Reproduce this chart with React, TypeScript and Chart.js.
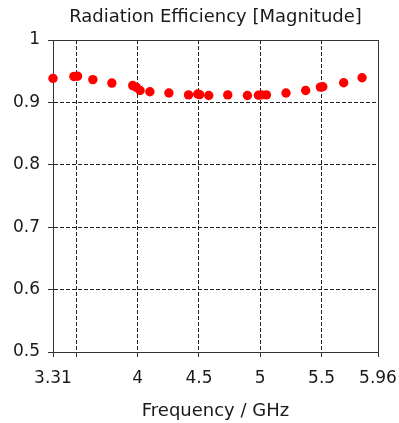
import React, { useEffect, useRef } from "react";
import { Chart, registerables } from "chart.js";

Chart.register(...registerables);

const chartTitle = "Radiation Efficiency [Magnitude]";
const xAxisTitle = "Frequency / GHz";
const xTickValues = [3.31, 3.5, 4, 4.5, 5, 5.5, 5.96];
const xTickLabels = ["3.31", "", "4", "4.5", "5", "5.5", "5.96"];
const yTickValues = [0.5, 0.6, 0.7, 0.8, 0.9, 1];
const yTickLabels = ["0.5", "0.6", "0.7", "0.8", "0.9", "1"];

const frequency = [
  3.31, 3.48, 3.51, 3.635, 3.79, 3.96, 3.99, 4.02, 4.1, 4.255, 4.415, 4.49,
  4.505, 4.58, 4.735, 4.895, 4.985, 5.01, 5.05, 5.21, 5.37, 5.49, 5.51, 5.68,
  5.83,
];
const efficiency = [
  0.9385, 0.9415, 0.942, 0.9365, 0.931, 0.927, 0.924, 0.919, 0.917, 0.915,
  0.912, 0.9135, 0.9125, 0.911, 0.912, 0.911, 0.9115, 0.912, 0.912, 0.915,
  0.919, 0.9245, 0.925, 0.9315, 0.9395,
];

const FONT = "'DejaVu Sans', sans-serif";

export default function App() {
  const canvasRef = useRef<HTMLCanvasElement | null>(null);

  useEffect(() => {
    const canvas = canvasRef.current;
    if (!canvas) return;

    const framePlugin = {
      id: "frameAndTitle",
      beforeDatasetsDraw(chart: any) {
        const { ctx, chartArea } = chart;
        ctx.save();
        ctx.strokeStyle = "#333";
        ctx.lineWidth = 1;
        ctx.setLineDash([]);
        const l = Math.round(chartArea.left) + 0.5;
        const r = Math.round(chartArea.right) + 0.5;
        const t = Math.round(chartArea.top) + 0.5;
        const b = Math.round(chartArea.bottom) + 0.5;
        ctx.strokeRect(l, t, r - l, b - t);
        ctx.restore();
      },
      afterDraw(chart: any) {
        const { ctx, chartArea } = chart;
        ctx.save();
        ctx.fillStyle = "#1a1a1a";
        ctx.font = `18px ${FONT}`;
        ctx.textAlign = "center";
        ctx.textBaseline = "middle";
        ctx.fillText(chartTitle, (chartArea.left + chartArea.right) / 2, 17);
        ctx.restore();
      },
    };

    const chart = new Chart(canvas, {
      type: "scatter",
      data: {
        datasets: [
          {
            label: "Radiation Efficiency",
            data: frequency.map((f, i) => ({ x: f, y: efficiency[i] })),
            backgroundColor: "#ff0000",
            borderColor: "#ff0000",
            borderWidth: 0,
            pointRadius: 4.7,
            pointHoverRadius: 4.7,
            clip: false as any,
          },
        ],
      },
      options: {
        animation: false,
        responsive: false,
        devicePixelRatio: 1,
        layout: { padding: { top: 40, right: 21, left: 0, bottom: 0 } },
        plugins: {
          legend: { display: false },
          title: { display: false },
          tooltip: { enabled: false },
        },
        scales: {
          x: {
            type: "linear",
            min: 3.31,
            max: 5.96,
            afterBuildTicks: (scale: any) => {
              scale.ticks = xTickValues.map((v) => ({ value: v }));
            },
            afterFit: (scale: any) => {
              scale.height = 71;
              scale.paddingLeft = 0;
              scale.paddingRight = 0;
            },
            ticks: {
              autoSkip: false,
              maxRotation: 0,
              minRotation: 0,
              padding: 11,
              color: "#1a1a1a",
              font: { family: FONT, size: 17 },
              callback: (v: any) => {
                const i = xTickValues.indexOf(Number(v));
                return i >= 0 ? xTickLabels[i] : "";
              },
            },
            grid: {
              color: "#222",
              lineWidth: 1,
              tickLength: 5,
              tickColor: "#333",
              tickBorderDash: [],
            },
            border: { display: true, color: "#333", width: 1, dash: [4, 2] },
            title: {
              display: true,
              text: xAxisTitle,
              color: "#1a1a1a",
              font: { family: FONT, size: 18 },
              padding: { top: 4, bottom: 1 },
            },
          },
          y: {
            type: "linear",
            min: 0.5,
            max: 1,
            afterBuildTicks: (scale: any) => {
              scale.ticks = yTickValues.map((v) => ({ value: v }));
            },
            afterFit: (scale: any) => {
              scale.width = 53;
            },
            ticks: {
              padding: 8,
              color: "#1a1a1a",
              font: { family: FONT, size: 17 },
              callback: (v: any) => {
                const i = yTickValues.findIndex((t) => Math.abs(t - Number(v)) < 1e-6);
                return i >= 0 ? yTickLabels[i] : "";
              },
            },
            grid: {
              color: "#222",
              lineWidth: 1,
              tickLength: 5,
              tickColor: "#333",
              tickBorderDash: [],
            },
            border: { display: true, color: "#333", width: 1, dash: [4, 2] },
          },
        },
      },
      plugins: [framePlugin],
    });

    return () => chart.destroy();
  }, []);

  return (
    <div
      style={{
        position: "fixed",
        left: 0,
        top: 0,
        width: 399,
        height: 423,
        background: "#fff",
      }}
    >
      <canvas ref={canvasRef} width={399} height={423} style={{ display: "block" }} />
    </div>
  );
}
